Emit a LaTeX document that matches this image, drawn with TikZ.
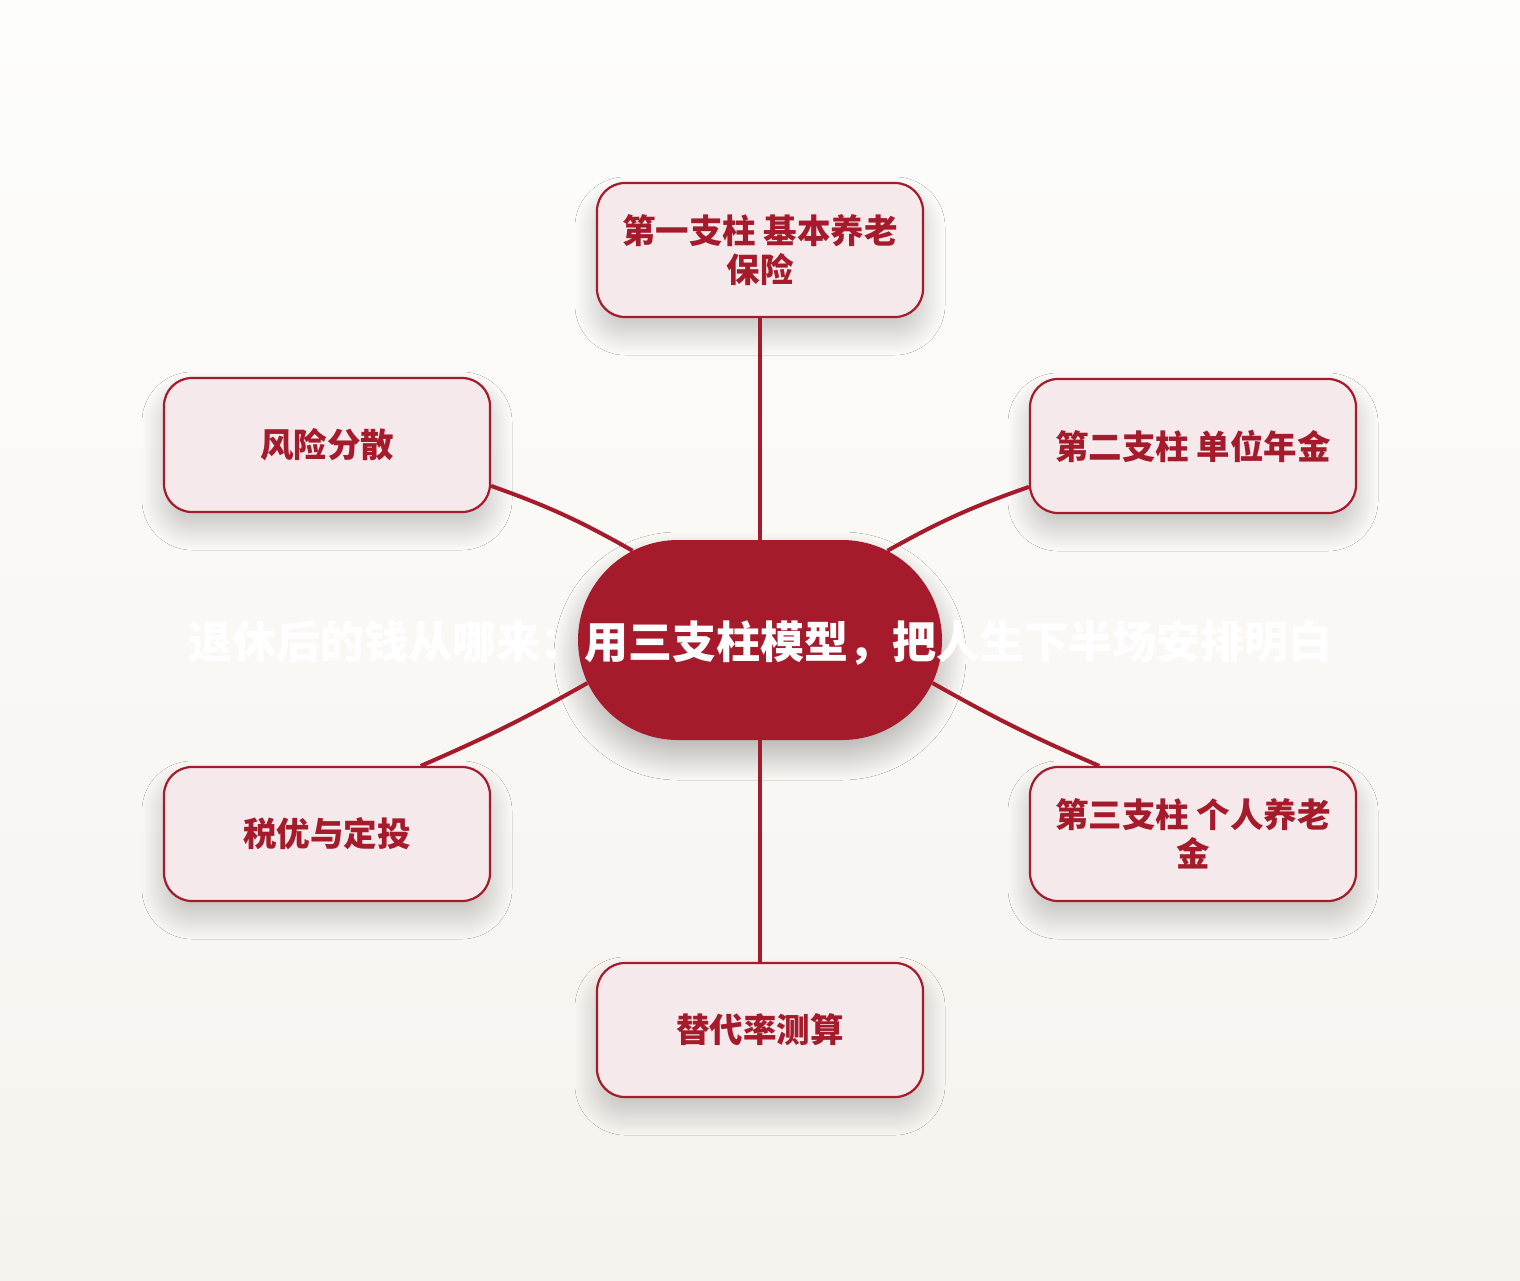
\documentclass[tikz,border=0pt]{standalone}
\usepackage{fontspec}
\setmainfont{Noto Sans CJK SC}
\usetikzlibrary{shapes.misc,shadows.blur}
\definecolor{pillarred}{HTML}{A51B2B}
\definecolor{leafpink}{HTML}{F5E9EC}
\definecolor{papertop}{HTML}{FDFDFC}
\definecolor{paperbot}{HTML}{F6F3EE}
\begin{document}
\begin{tikzpicture}[x=1pt,y=-1pt,
  hub/.style={rounded rectangle,fill=pillarred,minimum width=364pt,minimum height=200pt,inner sep=0pt,
    blur shadow={shadow xshift=0pt,shadow yshift=-16pt,shadow blur radius=24pt,shadow blur steps=40,shadow opacity=28}},
  leaf/.style={draw=pillarred,line width=2.2pt,fill=leafpink,rounded corners=28pt,
    minimum width=326pt,minimum height=134pt,align=center,text=pillarred,
    font=\bfseries\fontsize{33.5}{39}\selectfont,
    blur shadow={shadow xshift=0pt,shadow yshift=-16pt,shadow blur radius=22pt,shadow blur steps=40,shadow opacity=22}},
  link/.style={draw=pillarred,line width=4pt}]
% page and background
\fill[top color=papertop,bottom color=paperbot] (0,0) rectangle (1520,1280);
\useasboundingbox (0,0) rectangle (1520,1280);
% centre
\node[hub] (hub) at (760,640) {};
% pillars and topics
\node[leaf] (p1) at (760,250) {第一支柱 基本养老\\保险};
\node[leaf] (p2) at (1193,446) {第二支柱 单位年金};
\node[leaf] (p3) at (1193,834) {第三支柱 个人养老\\金};
\node[leaf] (rate) at (760,1030) {替代率测算};
\node[leaf] (tax) at (327,834) {税优与定投};
\node[leaf] (risk) at (327,445) {风险分散};
% links
\draw[link] (hub.north) -- (p1.south);
\draw[link] (hub.35) to[bend left=5] (p2.194);
\draw[link] (hub.346) to[bend right=3] (p3.144);
\draw[link] (hub.south) -- (rate.north);
\draw[link] (hub.194) to[bend left=3] (tax.36);
\draw[link] (hub.145) to[bend right=5] (risk.-14);
% title over the hub
\node[text=white,font=\bfseries\fontsize{44}{50}\selectfont] (title) at (760,643)
  {退休后的钱从哪来：用三支柱模型，把人生下半场安排明白};
\end{tikzpicture}
\end{document}
